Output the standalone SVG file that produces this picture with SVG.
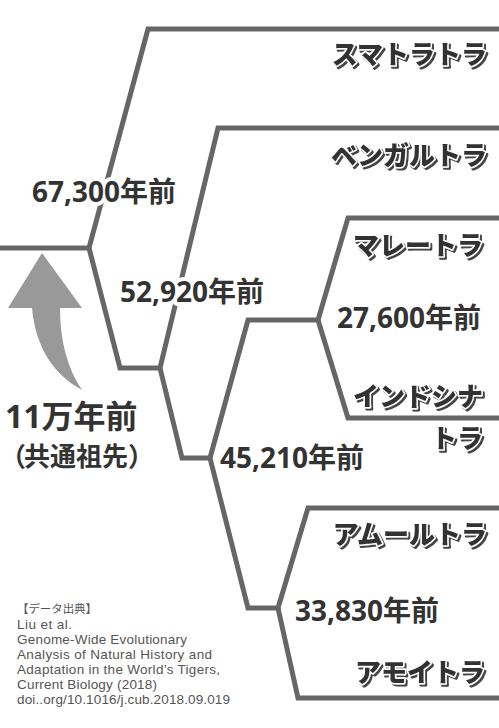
<svg xmlns="http://www.w3.org/2000/svg" width="499" height="728" viewBox="0 0 499 728">
<style>
.ln{fill:none;stroke:#666;stroke-width:5;stroke-linejoin:miter;stroke-miterlimit:10}
.num{font-family:"Noto Sans","Noto Sans CJK JP",sans-serif;font-weight:700;font-size:28px;fill:#333;stroke:#fff;stroke-width:8;stroke-linejoin:round;paint-order:stroke}
.sp{font-family:"Noto Sans CJK JP",sans-serif;font-weight:900;font-size:26px;fill:#333;stroke:#fff;stroke-width:3;stroke-linejoin:round;paint-order:stroke;text-anchor:end;filter:url(#sh)}
.root{font-family:"Noto Sans","Noto Sans CJK JP",sans-serif;font-weight:700;fill:#333}
.cite{font-family:"Liberation Sans","Noto Sans CJK JP",sans-serif;font-size:13.5px;fill:#555}
.citej{font-family:"Noto Sans CJK JP",sans-serif;font-size:11.5px;fill:#555}
</style>
<defs>
<filter id="sh" x="-10%" y="-20%" width="125%" height="150%">
<feDropShadow dx="2" dy="2" stdDeviation="0.4" flood-color="#444" flood-opacity="1"/>
</filter>
</defs>
<rect width="499" height="728" fill="#fff"/>
<g id="connectors">
<path class="ln" d="M0,248 H89 L148,29 H499"/>
<path class="ln" d="M89,248 L120,368 H160 L218,128 H499"/>
<path class="ln" d="M160,368 L182,458 H210 L248,320 H318 L348,218 H499"/>
<path class="ln" d="M318,320 L348,418 H499"/>
<path class="ln" d="M210,458 L248,608 H278 L308,508 H499"/>
<path class="ln" d="M278,608 L298,698 H499"/>
</g>
<g id="arrow">
<path d="M42,253 L82,308 L60,308 C60,340 67,368 82,390 C55,375 36,350 32,308 L8,308 Z" fill="#999"/>
</g>
<g id="node-67300"><text class="num" x="32" y="202">67,300年前</text></g>
<g id="node-52920"><text class="num" x="120" y="302">52,920年前</text></g>
<g id="node-45210"><text class="num" x="220" y="468">45,210年前</text></g>
<g id="node-27600"><text class="num" x="337" y="328">27,600年前</text></g>
<g id="node-33830"><text class="num" x="295" y="621">33,830年前</text></g>
<g id="sumatra"><text class="sp" x="487" y="64">スマトラトラ</text></g>
<g id="bengal"><text class="sp" x="487" y="165">ベンガルトラ</text></g>
<g id="malay"><text class="sp" x="483" y="255">マレートラ</text></g>
<g id="indochina"><text class="sp" x="483" y="406">インドシナ</text><text class="sp" x="483" y="448">トラ</text></g>
<g id="amur"><text class="sp" x="487" y="544">アムールトラ</text></g>
<g id="amoy"><text class="sp" x="485" y="682">アモイトラ</text></g>
<g id="root">
<text class="root" x="5" y="428" font-size="32">11万年前</text>
<text class="root" x="0 24 50 76 102 128" y="466" font-size="26">（共通祖先）</text>
</g>
<g id="citation">
<text class="citej" x="17" y="613" textLength="80">【データ出典】</text>
<text class="cite" x="17" y="629" textLength="55">Liu et al.</text>
<text class="cite" x="17" y="644" textLength="170">Genome-Wide Evolutionary</text>
<text class="cite" x="17" y="659" textLength="195">Analysis of Natural History and</text>
<text class="cite" x="17" y="674" textLength="203">Adaptation in the World’s Tigers,</text>
<text class="cite" x="17" y="689" textLength="140">Current Biology (2018)</text>
<text class="cite" x="17" y="704" textLength="213">doi..org/10.1016/j.cub.2018.09.019</text>
</g>
</svg>
